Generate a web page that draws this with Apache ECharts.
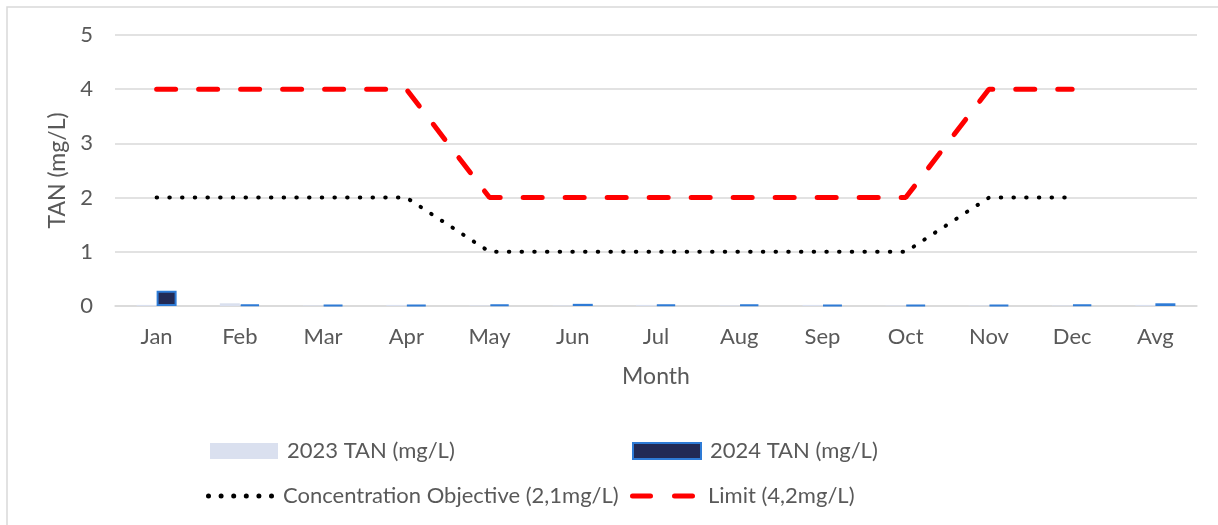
<!DOCTYPE html>
<html><head><meta charset="utf-8">
<script src="https://cdn.jsdelivr.net/npm/echarts@6/dist/echarts.min.js"></script>
<style>html,body{margin:0;padding:0;background:#fff}#c{width:1218px;height:525px}</style>
</head><body><div id="c"></div>
<script>
const months = ['Jan','Feb','Mar','Apr','May','Jun','Jul','Aug','Sep','Oct','Nov','Dec','Avg'];
const tan2023 = [0.02,0.05,0.01,0.02,0.01,0.01,0.02,0.01,0.02,0.01,0.01,0.01,0.02];
const tan2024 = [0.28,0.03,0.02,0.02,0.03,0.04,0.03,0.03,0.02,0.02,0.02,0.03,0.05];
const objective = [2,2,2,2,1,1,1,1,1,1,2,2,null];
const limit = [4,4,4,4,2,2,2,2,2,2,4,4,null];
const yTicks = [0,1,2,3,4,5];

const font = 'Lato, "Open Sans", sans-serif';
const txt = '#595959';
const dotIcon = 'path://' + [2.5,15.1,27.7,40.3,52.9,65.5].map(c =>
  `M${c-2.5},2.5 A2.5,2.5 0 1,0 ${c+2.5},2.5 A2.5,2.5 0 1,0 ${c-2.5},2.5 Z`).join(' ');
const dashIcon = 'path://M2.5,0 L20.5,0 A2.5,2.5 0 0 1 20.5,5 L2.5,5 A2.5,2.5 0 0 1 2.5,0 Z M44.5,0 L62.5,0 A2.5,2.5 0 0 1 62.5,5 L44.5,5 A2.5,2.5 0 0 1 44.5,0 Z';
const legText = {fontFamily:font,fontSize:22,color:txt,padding:[0,0,0,4]};
const chart = echarts.init(document.getElementById('c'), null, {renderer:'canvas'});
chart.setOption({
  animation:false,
  graphic:[{type:'rect',shape:{x:7,y:7,width:1240,height:540},style:{fill:null,stroke:'#d9d9d9',lineWidth:1.5},silent:true}],
  grid:{left:115,right:21,top:35,bottom:219,containLabel:false},
  legend:[
    {data:[{name:'2023 TAN (mg/L)',icon:'rect'}],left:205,top:435,itemWidth:68,itemHeight:16,textStyle:legText},
    {data:[{name:'2024 TAN (mg/L)',icon:'rect'}],left:627,top:435,itemWidth:68,itemHeight:16,textStyle:legText},
    {data:[{name:'Concentration Objective (2,1mg/L)',icon:dotIcon}],left:201,top:480,itemWidth:68,itemHeight:5,textStyle:legText},
    {data:[{name:'Limit (4,2mg/L)',icon:dashIcon}],left:625,top:480,itemWidth:65,itemHeight:5,textStyle:Object.assign({},legText,{padding:[0,0,0,8]})}
  ],
  xAxis:{type:'category',data:months,
    name:'Month',nameLocation:'middle',nameGap:59,nameTextStyle:{fontFamily:font,fontSize:23,color:txt},
    axisLine:{lineStyle:{color:'#d9d9d9',width:1.5}},axisTick:{show:false},
    axisLabel:{fontFamily:font,fontSize:22,color:txt,margin:20}},
  yAxis:{type:'value',min:0,max:5,interval:1,
    name:'TAN (mg/L)',nameLocation:'middle',nameGap:46,nameTextStyle:{fontFamily:font,fontSize:23,color:txt},
    axisLine:{show:false},axisTick:{show:false},
    axisLabel:{fontFamily:font,fontSize:22,color:txt,margin:22,formatter:v=>yTicks.includes(v)?String(v):''},
    splitLine:{lineStyle:{color:'#d9d9d9',width:1.5}}},
  series:[
    {name:'2023 TAN (mg/L)',type:'bar',data:tan2023,barWidth:20,barGap:'0%',
      itemStyle:{color:'#dae0ef'}},
    {name:'2024 TAN (mg/L)',type:'bar',data:tan2024,barWidth:20,barGap:'0%',
      itemStyle:{color:'#222a55',borderColor:'#2e7bd6',borderWidth:2}},
    {name:'Concentration Objective (2,1mg/L)',type:'line',data:objective,symbol:'none',
      lineStyle:{color:'#000',width:4,type:[0.5,12.2],cap:'round'},itemStyle:{color:'#000'},z:5},
    {name:'Limit (4,2mg/L)',type:'line',data:limit,symbol:'none',
      lineStyle:{color:'#ff0000',width:5,type:[19,23],cap:'round'},itemStyle:{color:'#ff0000'},z:6}
  ]
});
</script></body></html>
